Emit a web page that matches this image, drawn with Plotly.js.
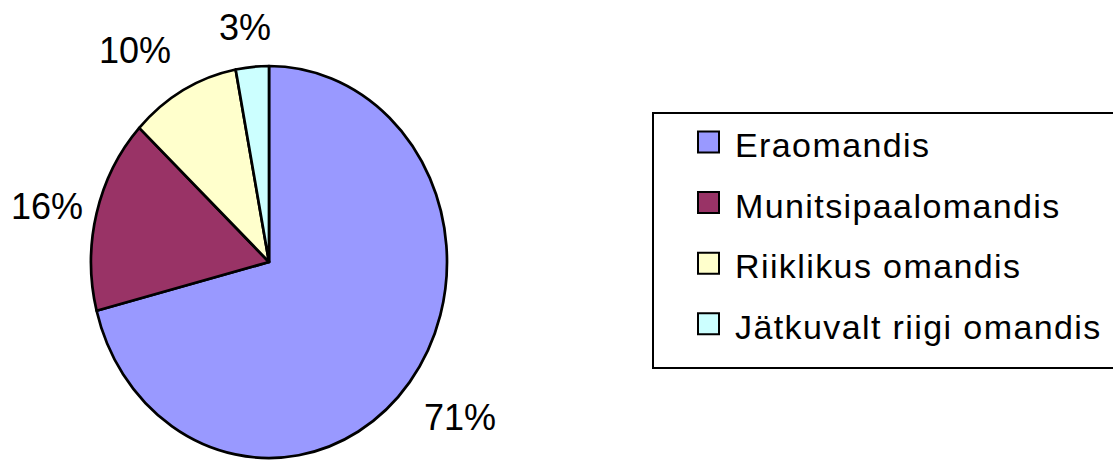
<!DOCTYPE html>
<html>
<head>
<meta charset="utf-8">
<script src="https://cdn.plot.ly/plotly-3.0.1.min.js"></script>
<style>
html,body{margin:0;padding:0;background:#fff;}
#chart{width:1113px;height:460px;}
</style>
</head>
<body>
<div id="chart"></div>
<script>
const categories = ["Eraomandis", "Munitsipaalomandis", "Riiklikus omandis", "Jätkuvalt riigi omandis"];
const values = [71, 16, 10, 3];
const colors = ["#9999FF", "#993366", "#FFFFCC", "#CCFFFF"];

const W = 1113, H = 460;
const px = x => x / W;
const py = y => 1 - y / H;
const FONT = "Arial, 'Liberation Sans', sans-serif";

// pie geometry (pixels): Excel-style elliptical pie
const cx = 269, cy = 262, ra = 178, rb = 196;

const trace = {
  type: "pie",
  labels: categories,
  values: values,
  sort: false,
  direction: "clockwise",
  rotation: 0,
  marker: {colors: colors, line: {color: "#000", width: 2.7}},
  textinfo: "none",
  showlegend: false,
  hoverinfo: "label+percent",
  domain: {x: [px(cx - rb), px(cx + rb)], y: [py(cy + rb), py(cy - rb)]}
};

// percentage labels placed just outside each slice (Excel "best fit"-like)
const total = values.reduce((s, v) => s + v, 0);
const annotations = [];
let cum = 0;
const clamp = (v, lo, hi) => Math.max(lo, Math.min(hi, v));
values.forEach((v, i) => {
  const mid = (cum + v / 2) / total * 2 * Math.PI;
  cum += v;
  const s = Math.sin(mid), c = Math.cos(mid);
  const txt = Math.round(v / total * 100) + "%";
  const w = 22 * txt.length + 6;
  const fx = Math.min(1, 2 * Math.abs(s));
  const fy = clamp((Math.abs(c) - 0.2) / 0.4, 0, 1);
  const X = cx + ra * s + Math.sign(s) * (w / 2 + 14) * fx;
  const Y = cy - rb * c - Math.sign(c) * 37.5 * fy;
  annotations.push({
    xref: "paper", yref: "paper",
    x: px(X), y: py(Y - 2),
    xanchor: "center", yanchor: "middle", showarrow: false,
    text: txt,
    font: {family: FONT, size: 36, color: "#000"}
  });
});

// legend built from the arrays
const shapes = [{
  type: "rect", xref: "paper", yref: "paper",
  x0: px(653), x1: px(1125), y0: py(368), y1: py(113),
  line: {color: "#000", width: 2}, fillcolor: "rgba(0,0,0,0)"
}];
const rowTop = 142, rowGap = 60.6, sw = 21;
const legStart = annotations.length;
categories.forEach((c, i) => {
  const yc = rowTop + i * rowGap;
  shapes.push({
    type: "rect", xref: "paper", yref: "paper",
    x0: px(698), x1: px(698 + sw), y0: py(yc + sw / 2), y1: py(yc - sw / 2),
    fillcolor: colors[i], line: {color: "#000", width: 2}
  });
  annotations.push({
    xref: "paper", yref: "paper", x: px(733), y: py(yc + 3),
    xanchor: "left", yanchor: "middle", showarrow: false,
    text: c, font: {family: FONT, size: 34, color: "#000"}
  });
});

const layout = {
  width: W, height: H,
  margin: {l: 0, r: 0, t: 0, b: 0},
  paper_bgcolor: "#fff",
  showlegend: false,
  shapes: shapes,
  annotations: annotations,
  font: {family: FONT}
};

Plotly.newPlot("chart", [trace], layout, {displayModeBar: false, staticPlot: true}).then(gd => {
  // squash the circular pie into Excel's ellipse
  const cd0 = gd.calcdata[0][0];
  const sx = ra / cd0.r, sy = rb / cd0.r;
  gd.querySelectorAll(".pielayer path.surface").forEach(p => {
    p.setAttribute("transform",
      `translate(${cd0.cx},${cd0.cy}) scale(${sx},${sy}) translate(${-cd0.cx},${-cd0.cy})`);
    p.style.vectorEffect = "non-scaling-stroke";
  });
  // widen legend text spacing, keeping its left edge in place
  const ann = gd.querySelectorAll(".annotation-text");
  ann.forEach((t, k) => {
    if (k < legStart) return;
    const left = t.getBBox().x;
    t.style.letterSpacing = "1.4px";
    t.setAttribute("text-anchor", "start");
    t.style.textAnchor = "start";
    t.setAttribute("x", left);
    t.querySelectorAll("tspan.line").forEach(ts => ts.setAttribute("x", left));
  });
});
</script>
</body>
</html>
